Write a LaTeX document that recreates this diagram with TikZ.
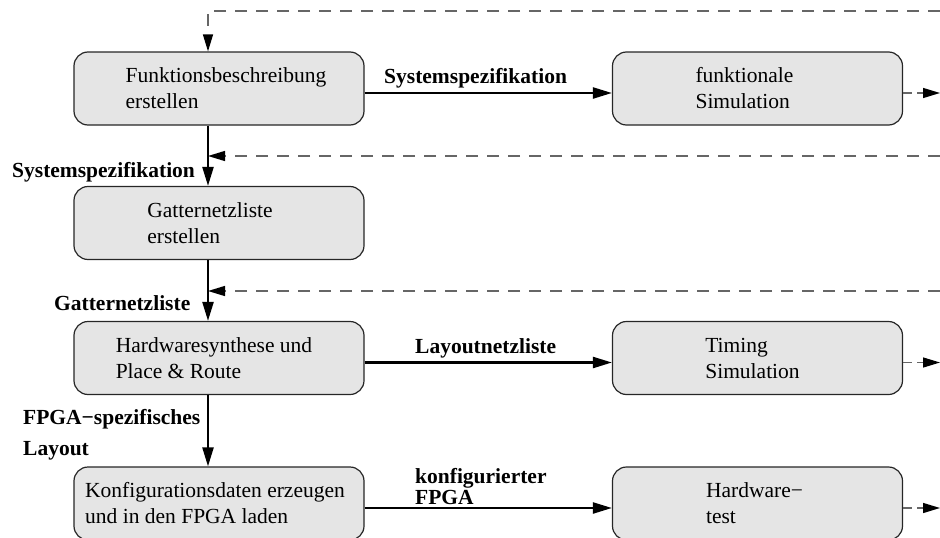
\documentclass[tikz,border=0pt]{standalone}
\usepackage{fontspec}
\setmainfont{Liberation Serif}[Ligatures=NoCommon]
\usetikzlibrary{arrows.meta}
\begin{document}
\begin{tikzpicture}[x=1pt,y=-1pt,
  box/.style={draw=black!85, line width=1.2pt, fill=black!10, rounded corners=14pt,
    minimum width=290pt, minimum height=73pt, inner sep=0pt, align=left,
    font=\fontsize{21.5}{26}\selectfont},
  lbl/.style={font=\fontsize{21.5}{21}\selectfont\bfseries, inner sep=0pt, anchor=base west},
  flow/.style={line width=2.3pt, -{Triangle[length=19pt,width=11pt]}},
  back/.style={line width=1.3pt, draw=black!60, dash pattern=on 12pt off 9pt,
    -{Triangle[length=17pt,width=10pt,fill=black,color=black]}},
  outarrow/.style={line width=1.3pt, draw=black!60, dash pattern=on 9pt off 5pt,
    -{Triangle[length=17pt,width=10pt,fill=black,color=black]}}]
\useasboundingbox (0,0) rectangle (940,538);
\clip (0,0) rectangle (940,538);

\node[box] (fb) at (219,88.5) {\hspace*{14pt}Funktionsbeschreibung\\\hspace*{14pt}erstellen};
\node[box] (gn) at (219,223) {Gatternetzliste\hspace*{18pt}\\erstellen};
\node[box] (hs) at (219,358) {Hardwaresynthese und\hspace*{10pt}\\Place \& Route};
\node[box] (kd) at (219,503.5) {Konfigurationsdaten erzeugen\hspace*{8pt}\\und in den FPGA laden};
\node[box] (fs) at (757.5,88.5) {funktionale\hspace*{26pt}\\Simulation\hspace*{26pt}};
\node[box] (ts) at (757.5,358) {Timing\\Simulation\hspace*{10pt}};
\node[box] (ht) at (757.5,503.5) {Hardware−\hspace*{6pt}\\test};

% feedback coordinates
\coordinate (r1) at (940,11);
\coordinate (r2) at (940,156);
\coordinate (r3) at (940,291);
\coordinate (v2) at (208,156);
\coordinate (v3) at (208,291);
\coordinate (o1) at (940,93);
\coordinate (o2) at (940,362.5);
\coordinate (o3) at (940,508);

% vertical flow
\draw[flow] ([xshift=-11pt]fb.south) -- ([xshift=-11pt]gn.north);
\draw[flow] ([xshift=-11pt]gn.south) -- ([xshift=-11pt]hs.north);
\draw[flow] ([xshift=-11pt]hs.south) -- ([xshift=-11pt]kd.north);

% horizontal flow
\draw[flow] ([yshift=-4.5pt]fb.east) -- ([yshift=-4.5pt]fs.west);
\draw[flow] ([yshift=-4.5pt]hs.east) -- ([yshift=-4.5pt]ts.west);
\draw[flow] ([yshift=-4.5pt]kd.east) -- ([yshift=-4.5pt]ht.west);

% dashed feedback
\draw[back] (r1) -| ([xshift=-11pt]fb.north);
\draw[back] (r2) -- (v2);
\draw[back] (r3) -- (v3);

% dashed outputs
\draw[outarrow] ([yshift=-4.5pt]fs.east) -- (o1);
\draw[outarrow] ([yshift=-4.5pt]ts.east) -- (o2);
\draw[outarrow] ([yshift=-4.5pt]ht.east) -- (o3);

% labels
\node[lbl] (l1) at (384,83) {Systemspezifikation};
\node[lbl] (l2) at (12,177) {Systemspezifikation};
\node[lbl] (l3) at (54,310) {Gatternetzliste};
\node[lbl] (l4) at (23,424) {FPGA−spezifisches};
\node[lbl] (l5) at (23,455) {Layout};
\node[lbl] (l6) at (415,353) {Layoutnetzliste};
\node[lbl] (l7) at (415,483) {konfigurierter};
\node[lbl] (l8) at (415,504) {FPGA};
\end{tikzpicture}
\end{document}
